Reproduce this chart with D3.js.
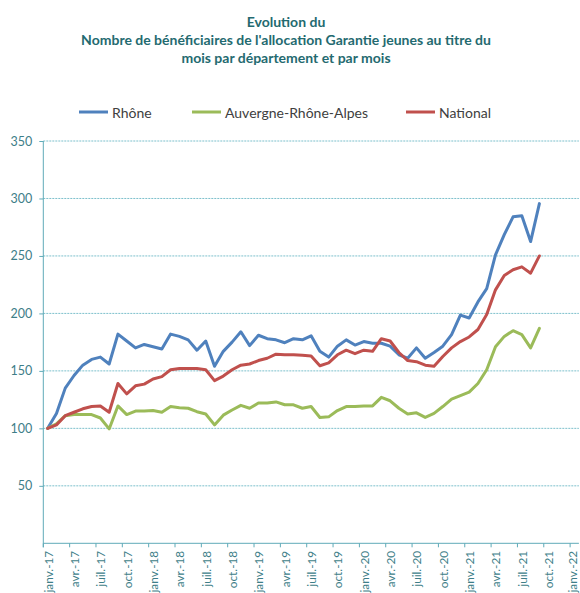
<!DOCTYPE html>
<html>
<head>
<meta charset="utf-8">
<script src="https://cdn.jsdelivr.net/npm/d3@7"></script>
<style>
  html, body { margin: 0; padding: 0; background: #ffffff; }
  svg { display: block; }
</style>
</head>
<body>
<svg id="chart" width="580" height="593"></svg>
<script>
// Monthly index (base 100 = janvier 2017), janv. 2017 -> sept. 2021
const rhone = [100,113,135,146,155,160,162,156,182,176,170,173,171,169,182,
  180,177,168,176,154,167,175,184,172,181,178,177,174.5,178,177,
  180.5,167,162,171.5,177,172.5,175.5,174,174,171.5,164,161,170,161,166,
  171.5,181.5,198.5,196,210,221.5,251,268.5,284,285,262.5,295.5];
const auvergneRhoneAlpes = [100,104,111,112,112,112,109,99.5,119.5,112,115,115,115.5,114,119,
  118,117.5,114.5,112.5,103,111.5,116,120,117.5,122,122,123,120.5,120.5,117.5,
  119,109.5,110,115.5,119,119,119.5,119.5,127,124,117.5,112.5,113.5,109.5,113,
  119,125.5,128.5,131.5,139,151,171,180,185,181.5,170,187];
const national = [100,103,111,114,117,119,119.5,114,139,130,137,138.5,143,145,151,
  152,152,152,151,141.5,145.5,151,155,156,159,161,164.5,164,164,163.5,
  163,154.5,157,164,168,165,168,167,178,176,166,159,158,155,154,
  162.5,170,175.5,179.5,186,199,220.5,233,238,240.5,235,250];

const seriesNames = ["Rhône", "Auvergne-Rhône-Alpes", "National"];
const yTicks = [50, 100, 150, 200, 250, 300, 350];
const monthAbbr = ["janv.", "févr.", "mars", "avr.", "mai", "juin", "juil.", "août", "sept.", "oct.", "nov.", "déc."];
const titleLines = ["Evolution du",
  "Nombre de bénéficiaires de l'allocation Garantie jeunes au titre du",
  "mois par département et par mois"];

// Axis slots: one per month, janv. 2017 -> janv. 2022
const axisMonths = d3.timeMonth.range(new Date(2017, 0, 1), new Date(2022, 1, 1));
const dataMonths = axisMonths.slice(0, rhone.length);
const key = d => d3.timeFormat("%Y-%m")(d);
const label = d => monthAbbr[d.getMonth()] + "-" + d3.timeFormat("%y")(d);

const colors = { "Rhône": "#4F81BD", "Auvergne-Rhône-Alpes": "#9BBB59", "National": "#C0504D" };
const seriesData = { "Rhône": rhone, "Auvergne-Rhône-Alpes": auvergneRhoneAlpes, "National": national };

const svg = d3.select("#chart");
const FONT = "Lato, 'Open Sans', sans-serif";
const axisColor = "#5FAAB8";
const tickText = "#3E7E88";

const x = d3.scaleBand().domain(axisMonths.map(key)).range([43.3, 578.9]).padding(0);
const y = d3.scaleLinear().domain([0, 350]).range([543.3, 141]);
const bw = x.bandwidth();

// Title
svg.append("g").selectAll("text").data(titleLines).join("text")
  .attr("x", 286).attr("y", (d, i) => 27 + i * 18)
  .attr("text-anchor", "middle")
  .attr("font-family", FONT).attr("font-weight", "bold").attr("font-size", 14)
  .attr("fill", "#246A70")
  .text(d => d);

// Gridlines
svg.append("g").selectAll("line").data(yTicks).join("line")
  .attr("x1", 43.3).attr("x2", 578.9)
  .attr("y1", d => y(d)).attr("y2", d => y(d))
  .attr("stroke", "#7DC0CC").attr("stroke-width", 1).attr("stroke-dasharray", "2,1");

// Y axis
const yAxis = svg.append("g").attr("transform", "translate(43.3,0)")
  .call(d3.axisLeft(y).tickValues(yTicks).tickSize(4).tickSizeOuter(0).tickPadding(7));
yAxis.select(".domain").attr("stroke", axisColor).attr("d", `M0,${y(0) + 4}V${y(350)}`);
yAxis.selectAll(".tick line").attr("stroke", axisColor);
yAxis.selectAll(".tick text").attr("fill", tickText).attr("font-family", FONT).attr("font-size", 12.5);

// X axis
const qMonths = axisMonths.filter(d => d.getMonth() % 3 === 0);
const xg = svg.append("g");
xg.append("line").attr("x1", 43.3).attr("x2", 578.9).attr("y1", y(0)).attr("y2", y(0))
  .attr("stroke", axisColor);
xg.selectAll(".xt").data(qMonths).join("line").attr("class", "xt")
  .attr("x1", d => x(key(d))).attr("x2", d => x(key(d)))
  .attr("y1", y(0)).attr("y2", y(0) + 4)
  .attr("stroke", axisColor);
// labels sit mid-slot; the last one is kept inside the right edge
xg.selectAll("text").data(qMonths).join("text")
  .attr("transform", d => `translate(${Math.min(x(key(d)) + bw / 2 + 0.5, 572.5)},${y(0) + 7.5}) rotate(-90)`)
  .attr("text-anchor", "end").attr("dominant-baseline", "central")
  .attr("font-family", FONT).attr("font-size", 11.8).attr("fill", tickText)
  .text(label);

// Lines
const line = d3.line()
  .x((v, i) => x(key(dataMonths[i])) + bw / 2)
  .y(v => y(v));
svg.append("g").selectAll("path").data(seriesNames).join("path")
  .attr("d", n => line(seriesData[n]))
  .attr("fill", "none").attr("stroke", n => colors[n])
  .attr("stroke-width", 3).attr("stroke-linejoin", "round").attr("stroke-linecap", "round");

// Legend
const legendX = [79, 192, 406];
const lg = svg.append("g").selectAll("g").data(seriesNames).join("g")
  .attr("transform", (d, i) => `translate(${legendX[i]},112)`);
lg.append("line").attr("x1", 0).attr("x2", 29).attr("y1", 0).attr("y2", 0)
  .attr("stroke", d => colors[d]).attr("stroke-width", 3);
lg.append("text").attr("x", 33).attr("y", 0).attr("dominant-baseline", "central")
  .attr("font-family", FONT).attr("font-size", 14).attr("fill", "#404040")
  .text(d => d);
</script>
</body>
</html>
